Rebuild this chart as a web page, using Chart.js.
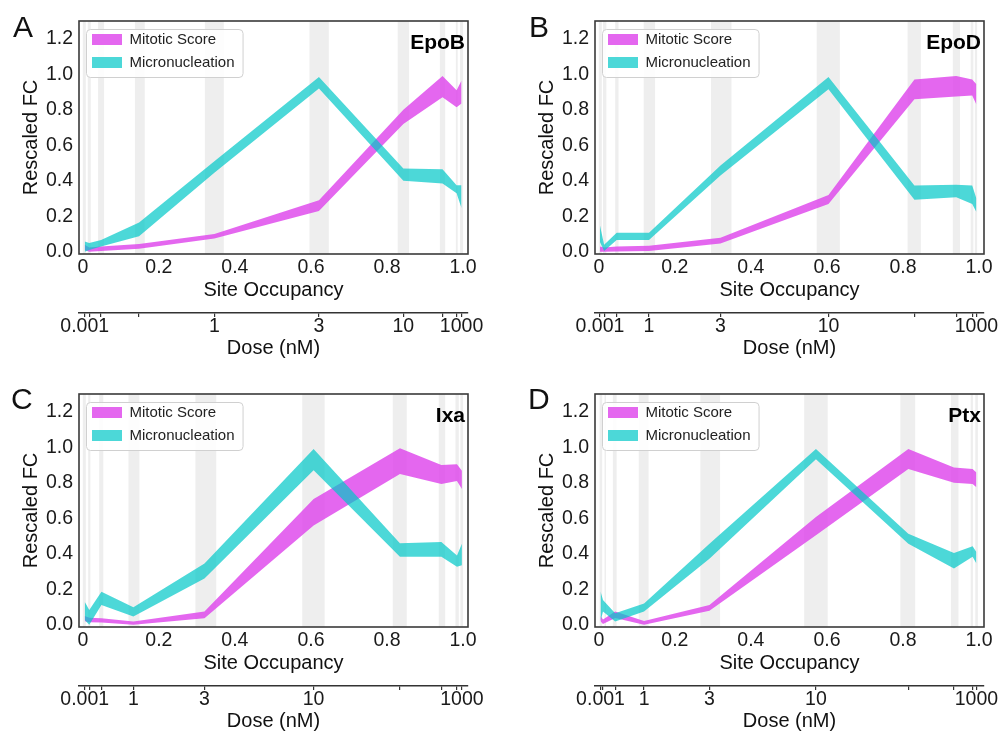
<!DOCTYPE html>
<html>
<head>
<meta charset="utf-8">
<script src="https://cdn.jsdelivr.net/npm/chart.js@4.4.1/dist/chart.umd.min.js"></script>
<style>
  body { margin: 0; background: #fff; width: 1005px; height: 734px; overflow: hidden; position: relative; }
  canvas { position: absolute; }
  .letter { position: absolute; font-family: 'Liberation Sans', Arial, sans-serif; font-size: 30px; line-height: 30px; color: #111; }
</style>
</head>
<body>
<canvas id="cA" width="500" height="361" style="left:0;top:0"></canvas>
<canvas id="cB" width="500" height="361" style="left:516px;top:0"></canvas>
<canvas id="cC" width="500" height="361" style="left:0;top:373px"></canvas>
<canvas id="cD" width="500" height="361" style="left:516px;top:373px"></canvas>
<div class="letter" style="left:13px;top:12px">A</div>
<div class="letter" style="left:529px;top:12px">B</div>
<div class="letter" style="left:11px;top:384px">C</div>
<div class="letter" style="left:528px;top:384px">D</div>
<script>
// shared axis values
const seriesNames = ['Mitotic Score', 'Micronucleation'];
const xTicks = [0, 0.2, 0.4, 0.6, 0.8, 1.0];
const xTickLabels = ['0', '0.2', '0.4', '0.6', '0.8', '1.0'];
const yTicks = [0, 0.2, 0.4, 0.6, 0.8, 1.0, 1.2];

// A - EpoB
const occA = [0.005, 0.017, 0.048, 0.148, 0.346, 0.621, 0.843, 0.946, 0.983, 0.996];
const doseLabelsA = ['0.001', '', '', '', '1', '3', '10', '', '', '1000'];
const bandFromA = [0.0, 0.013, 0.040, 0.137, 0.321, 0.596, 0.828, 0.939, 0.981, 0.992];
const bandToA = [0.008, 0.021, 0.056, 0.163, 0.371, 0.647, 0.858, 0.953, 0.986, 1.0];
const mitLoA = [0.01, 0.0, 0.005, 0.018, 0.075, 0.23, 0.72, 0.87, 0.815, 0.835];
const mitHiA = [0.04, 0.025, 0.03, 0.045, 0.10, 0.29, 0.80, 0.99, 0.91, 0.965];
const micLoA = [0.0, 0.01, 0.03, 0.088, 0.445, 0.92, 0.40, 0.385, 0.33, 0.245];
const micHiA = [0.058, 0.05, 0.067, 0.165, 0.51, 0.985, 0.47, 0.465, 0.375, 0.375];

// B - EpoD
const occB = [0.003, 0.014, 0.047, 0.132, 0.32, 0.604, 0.83, 0.94, 0.982, 0.993];
const doseLabelsB = ['0.001', '', '', '1', '3', '10', '', '', '', '1000'];
const bandFromB = [0.0, 0.011, 0.043, 0.118, 0.295, 0.573, 0.812, 0.931, 0.978, 0.989];
const bandToB = [0.008, 0.02, 0.052, 0.148, 0.349, 0.634, 0.847, 0.95, 0.985, 0.995];
const mitLoB = [0.0, 0.0, 0.002, 0.005, 0.047, 0.27, 0.86, 0.875, 0.88, 0.83];
const mitHiB = [0.03, 0.025, 0.03, 0.035, 0.08, 0.32, 0.97, 0.99, 0.97, 0.944];
const micLoB = [0.055, 0.005, 0.067, 0.067, 0.43, 0.916, 0.293, 0.308, 0.27, 0.224];
const micHiB = [0.15, 0.04, 0.108, 0.108, 0.486, 0.985, 0.374, 0.378, 0.374, 0.30];

// C - Ixa
const occC = [0.005, 0.017, 0.049, 0.133, 0.32, 0.607, 0.834, 0.943, 0.984, 0.997];
const doseLabelsC = ['0.001', '', '', '1', '3', '10', '', '', '', '1000'];
const bandFromC = [0.0, 0.014, 0.043, 0.12, 0.296, 0.577, 0.815, 0.936, 0.98, 0.993];
const bandToC = [0.008, 0.02, 0.054, 0.149, 0.351, 0.636, 0.852, 0.953, 0.989, 1.0];
const mitLoC = [0.02, 0.015, 0.013, 0.0, 0.037, 0.56, 0.85, 0.793, 0.81, 0.765];
const mitHiC = [0.05, 0.04, 0.037, 0.019, 0.075, 0.709, 0.995, 0.9, 0.905, 0.868];
const micLoC = [0.028, 0.0, 0.112, 0.047, 0.261, 0.87, 0.383, 0.383, 0.327, 0.336];
const micHiC = [0.13, 0.084, 0.187, 0.099, 0.345, 0.99, 0.46, 0.467, 0.39, 0.457];

// D - Ptx
const occD = [0.0045, 0.011, 0.043, 0.119, 0.291, 0.571, 0.814, 0.934, 0.983, 0.993];
const doseLabelsD = ['0.001', '', '', '1', '3', '10', '', '', '', '1000'];
const bandFromD = [0.002, 0.015, 0.037, 0.105, 0.267, 0.54, 0.793, 0.926, 0.978, 0.99];
const bandToD = [0.009, 0.019, 0.047, 0.131, 0.319, 0.602, 0.832, 0.946, 0.984, 0.997];
const mitLoD = [0.02, 0.005, 0.038, 0.0, 0.08, 0.504, 0.877, 0.8, 0.793, 0.775];
const mitHiD = [0.05, 0.03, 0.075, 0.022, 0.112, 0.607, 0.99, 0.886, 0.877, 0.858];
const micLoD = [0.02, 0.075, 0.019, 0.075, 0.373, 0.933, 0.457, 0.317, 0.383, 0.345];
const micHiD = [0.19, 0.14, 0.066, 0.12, 0.457, 0.99, 0.513, 0.405, 0.442, 0.41];

const PINK = 'rgba(220, 60, 235, 0.78)';
const CYAN = 'rgba(0, 200, 200, 0.7)';
const FONT = "'Liberation Sans', Arial, sans-serif";

Chart.defaults.font.family = FONT;
Chart.defaults.color = '#1a1a1a';

function band(occ, lo, hi, label, color, order) {
    return [
        { label: label, data: occ.map((x, i) => ({ x: x, y: hi[i] })), backgroundColor: color,
          borderColor: 'rgba(0,0,0,0)', borderWidth: 0, pointRadius: 0, tension: 0, fill: '+1', order: order },
        { label: '', data: occ.map((x, i) => ({ x: x, y: lo[i] })), backgroundColor: color,
          borderColor: 'rgba(0,0,0,0)', borderWidth: 0, pointRadius: 0, tension: 0, fill: false, order: order }
    ];
}

function makePanel(id, drug, occ, doseLabels, bandFrom, bandTo, mitLo, mitHi, micLo, micHi) {
    // grey dose bands + legend frame, drawn under everything else
    const under = {
        id: 'under',
        afterLayout(chart) {
            chart.legend.left = chart.chartArea.left + 5;
            chart.legend.top = chart.chartArea.top + 3;
        },
        beforeDraw(chart) {
            const ctx = chart.ctx, area = chart.chartArea, x = chart.scales.x;
            ctx.save();
            ctx.fillStyle = 'rgba(0,0,0,0.065)';
            bandFrom.forEach((from, i) => {
                const x0 = Math.max(x.getPixelForValue(from), area.left);
                const x1 = Math.min(x.getPixelForValue(bandTo[i]), area.right);
                ctx.fillRect(x0, area.top, x1 - x0, area.bottom - area.top);
            });
            const lg = chart.legend;
            const w = Math.max(...lg.legendHitBoxes.map(h => h.width));
            const bx = lg.left + 8 - 6, by = lg.top + 8 - 3;
            ctx.beginPath();
            ctx.roundRect(bx + 0.5, by + 0.5, w + 14, 48, 4);
            ctx.fillStyle = 'rgba(255,255,255,0.85)';
            ctx.fill();
            ctx.strokeStyle = '#d0d0d0';
            ctx.lineWidth = 1;
            ctx.stroke();
            ctx.restore();
        }
    };
    // plot frame + drug name
    const over = {
        id: 'over',
        afterDraw(chart) {
            const ctx = chart.ctx, a = chart.chartArea;
            ctx.save();
            ctx.strokeStyle = '#3a3a3a';
            ctx.lineWidth = 1.6;
            ctx.strokeRect(a.left, a.top, a.right - a.left, a.bottom - a.top);
            ctx.font = 'bold 21px ' + FONT;
            ctx.fillStyle = '#000';
            ctx.textAlign = 'right';
            ctx.textBaseline = 'alphabetic';
            ctx.fillText(drug, a.right - 3, a.top + 28);
            ctx.restore();
        }
    };

    return new Chart(document.getElementById(id), {
        type: 'line',
        data: {
            datasets: [
                ...band(occ, mitLo, mitHi, seriesNames[0], PINK, 2),
                ...band(occ, micLo, micHi, seriesNames[1], CYAN, 1)
            ]
        },
        options: {
            responsive: false,
            animation: false,
            events: [],
            layout: { padding: { left: 0, right: 32, top: 21, bottom: 0 } },
            plugins: {
                tooltip: { enabled: false },
                legend: {
                    position: 'chartArea',
                    align: 'start',
                    labels: {
                        boxWidth: 30,
                        boxHeight: 11,
                        padding: 8,
                        color: '#222',
                        font: { size: 15 },
                        filter: item => item.text !== '',
                        sort: (a, b) => a.datasetIndex - b.datasetIndex
                    }
                }
            },
            scales: {
                x: {
                    type: 'linear',
                    position: 'bottom',
                    weight: 0,
                    min: -0.01,
                    max: 1.013,
                    grid: { display: false, drawTicks: false },
                    border: { display: false },
                    afterBuildTicks: s => { s.ticks = xTicks.map(v => ({ value: v })); },
                    afterFit: s => { s.height = 59; },
                    ticks: {
                        autoSkip: false, maxRotation: 0, padding: 2,
                        font: { size: 19.5 },
                        callback: (v, i) => xTickLabels[i]
                    },
                    title: { display: true, text: 'Site Occupancy', font: { size: 20 }, color: '#111', padding: { top: 0, bottom: 11 } }
                },
                x2: {
                    type: 'linear',
                    position: 'bottom',
                    axis: 'x',
                    weight: 1,
                    min: -0.01,
                    max: 1.013,
                    grid: { display: true, drawOnChartArea: false, drawTicks: true, tickLength: 4, color: '#333', lineWidth: 1.2 },
                    border: { display: true, color: '#333', width: 1.5 },
                    afterBuildTicks: s => { s.ticks = occ.map(v => ({ value: v })); },
                    afterFit: s => { s.height = 48; },
                    ticks: {
                        autoSkip: false, maxRotation: 0, padding: -2,
                        font: { size: 19.5 },
                        callback: (v, i) => doseLabels[i]
                    },
                    title: { display: true, text: 'Dose (nM)', font: { size: 20 }, color: '#111', padding: { top: 0, bottom: 1 } }
                },
                y: {
                    type: 'linear',
                    position: 'left',
                    min: -0.012,
                    max: 1.3,
                    grid: { display: false, drawTicks: false },
                    border: { display: false },
                    afterBuildTicks: s => { s.ticks = yTicks.map(v => ({ value: v })); },
                    afterFit: s => { s.width = 79; },
                    ticks: {
                        padding: 6,
                        font: { size: 19.5 },
                        callback: v => v.toFixed(1)
                    },
                    title: { display: true, text: 'Rescaled FC', font: { size: 20 }, color: '#111', padding: { top: 19, bottom: 0 } }
                }
            }
        },
        plugins: [under, over]
    });
}

makePanel('cA', 'EpoB', occA, doseLabelsA, bandFromA, bandToA, mitLoA, mitHiA, micLoA, micHiA);
makePanel('cB', 'EpoD', occB, doseLabelsB, bandFromB, bandToB, mitLoB, mitHiB, micLoB, micHiB);
makePanel('cC', 'Ixa', occC, doseLabelsC, bandFromC, bandToC, mitLoC, mitHiC, micLoC, micHiC);
makePanel('cD', 'Ptx', occD, doseLabelsD, bandFromD, bandToD, mitLoD, mitHiD, micLoD, micHiD);
</script>
</body>
</html>
